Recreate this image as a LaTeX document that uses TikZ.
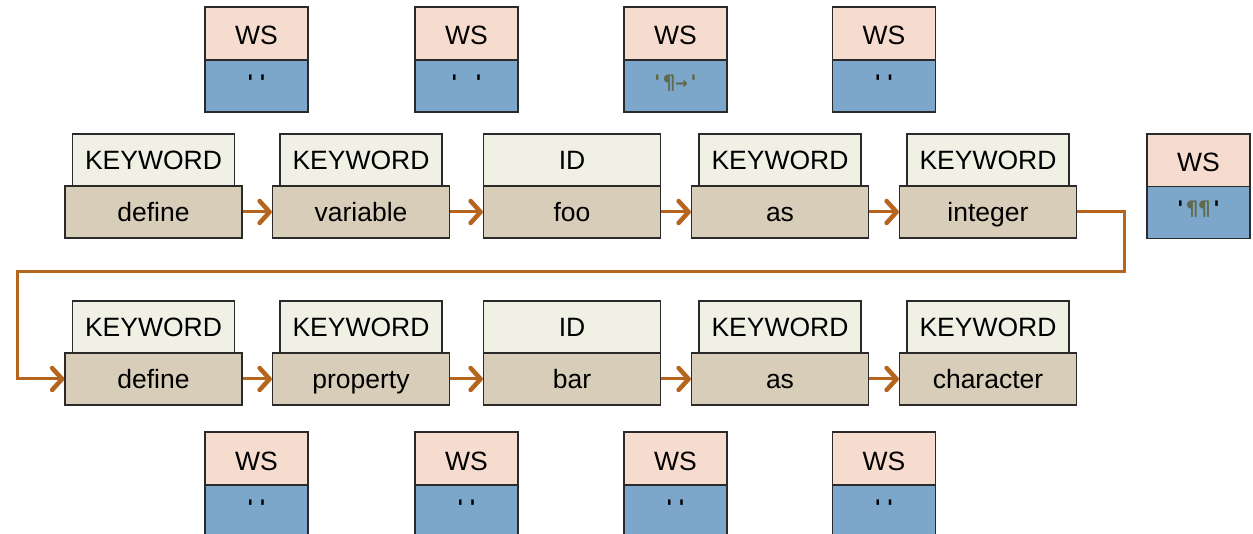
\documentclass[tikz,border=0pt]{standalone}
\usepackage{fontspec}
\setmainfont{Liberation Sans}
\setmonofont{DejaVu Sans Mono}
\usetikzlibrary{arrows.meta}
\definecolor{wshead}{HTML}{F6DCCF}
\definecolor{wsbody}{HTML}{7CA7CB}
\definecolor{kwhead}{HTML}{F1F0E5}
\definecolor{kwbody}{HTML}{D8CDB8}
\definecolor{flowc}{HTML}{B5651D}
\definecolor{symc}{HTML}{5F6B4C}
\definecolor{edge}{HTML}{2A2A2A}
\tikzset{
  box/.style={draw=edge, line width=1.3pt, inner sep=0pt, font=\fontsize{26.5}{30}\selectfont},
  tokbody/.style={box, fill=kwbody, minimum width=177, minimum height=52, text height=19, text depth=0},
  tokhead/.style={box, fill=kwhead, minimum height=52, text height=19, text depth=0},
  KEYWORD/.style={minimum width=162},
  ID/.style={minimum width=177},
  wshead/.style={box, fill=wshead, minimum width=103, minimum height=53, text height=23, text depth=0},
  wsbody/.style={box, fill=wsbody, minimum width=103, minimum height=52, text height=15, text depth=8,
     font=\fontsize{20}{22}\selectfont\ttfamily\bfseries},
  flow/.style={draw=flowc, line width=3pt, -{Straight Barb[length=10pt,width=22pt,line width=4.5pt,round]}},
}
\newcommand{\sy}[1]{\textcolor{symc}{#1}}
\begin{document}
\begin{tikzpicture}[x=1pt,y=-1pt]
\clip (0,0) rectangle (1253,534);
\fill[white] (0,0) rectangle (1253,534);
% row 1
\foreach \n/\cx/\kind/\word in {1/153.5/KEYWORD/define, 2/361/KEYWORD/variable, 3/572/ID/foo, 4/780/KEYWORD/as, 5/988/KEYWORD/integer} {
  \node[tokbody] (a\n) at (\cx,212) {\word};
  \node[tokhead,\kind] (ha\n) at (\cx,160) {\kind};
}
% row 2
\foreach \n/\cx/\kind/\word in {1/153.5/KEYWORD/define, 2/361/KEYWORD/property, 3/572/ID/bar, 4/780/KEYWORD/as, 5/988/KEYWORD/character} {
  \node[tokbody] (b\n) at (\cx,379) {\word};
  \node[tokhead,\kind] (hb\n) at (\cx,327) {\kind};
}
% WS top
\foreach \n/\cx/\txt in {1/256.5/{''}, 2/466.5/{' '}, 3/675.5/{\sy{'¶→'}}, 4/884/{''}} {
  \node[wshead] (wt\n) at (\cx,33.5) {WS};
  \node[wsbody] (wtb\n) at (\cx,86) {\txt};
}
% WS right
\node[wshead] (wr) at (1198.5,160.5) {WS};
\node[wsbody] (wrb) at (1198.5,212.5) {'\sy{¶¶}'};
% WS bottom
\foreach \n/\cx in {1/256.5, 2/466.5, 3/675.5, 4/884} {
  \node[wshead] (wbh\n) at (\cx,458.5) {WS};
  \node[wsbody] (wbb\n) at (\cx,511) {''};
}
% arrows
\foreach \i/\j in {1/2,2/3,3/4,4/5} {
  \draw[flow] (a\i) -- (a\j);
  \draw[flow] (b\i) -- (b\j);
}
\coordinate (c1) at (1124,212);
\coordinate (c2) at (1124,272);
\coordinate (c3) at (17,272);
\coordinate (c4) at (17,379);
\draw[flow] (a5.east) -- (c1) -- (c2) -- (c3) -- (c4) -- (b1.west);
\end{tikzpicture}
\end{document}
